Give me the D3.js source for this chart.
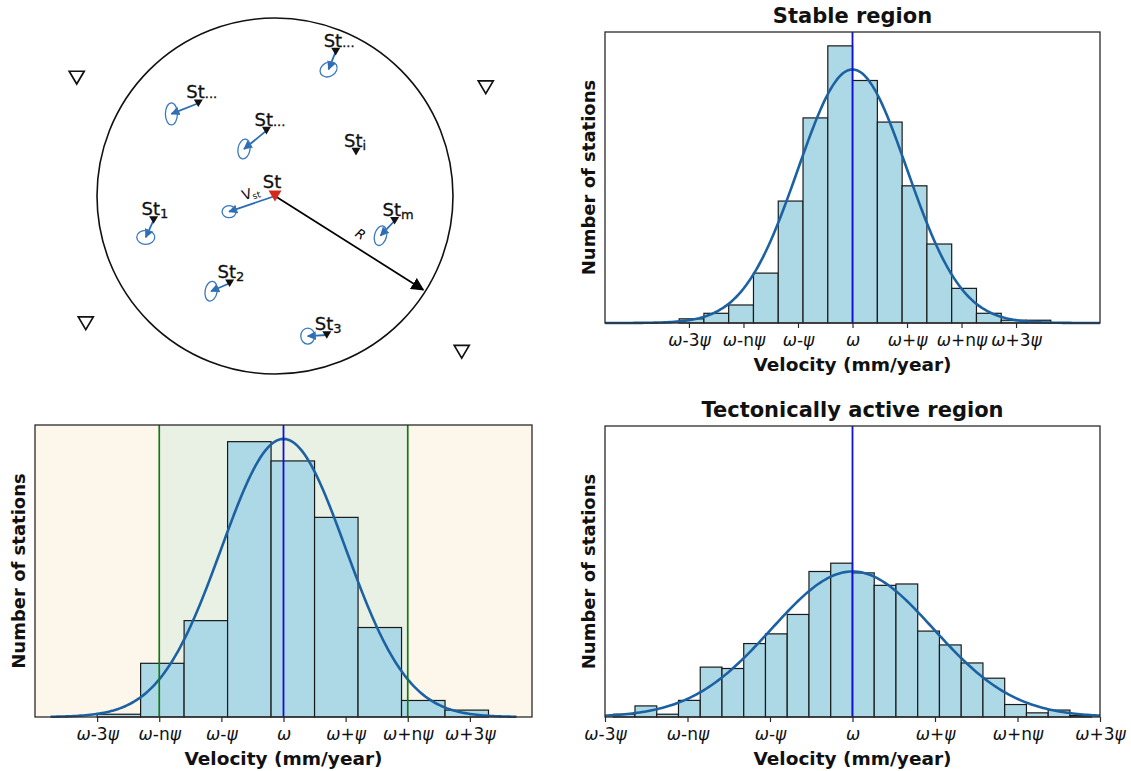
<!DOCTYPE html>
<html>
<head>
<meta charset="utf-8">
<script src="https://cdn.jsdelivr.net/npm/d3@7"></script>
<style>
  body { margin: 0; background: #fff; }
  text { font-family: 'DejaVu Sans', sans-serif; }
</style>
</head>
<body>
<div id="chart"></div>
<script>
// tick labels shared by the three histograms (units of psi around omega)
var tickValues = [-3, -2, -1, 0, 1, 2, 3];
var tickLabels = ['ω-3ψ', 'ω-nψ', 'ω-ψ', 'ω', 'ω+ψ', 'ω+nψ', 'ω+3ψ'];

// stable region
var stableStart = -3.18, stableWidth = 0.4545;
var stableCounts = [3, 7, 13, 36, 88, 148, 200, 175, 145, 99, 57, 25, 7, 2, 2];
var stableFit = { mean: 0, sd: 1.0, peak: 183 };

// tectonically active region
var activeStart = -2.9, activeWidth = 0.2636;
var activeCounts = [2, 8, 2, 12, 36, 35, 53, 60, 74, 105, 111, 104, 95, 96, 62, 52, 39, 28, 9, 3, 5, 1];
var activeFit = { mean: 0, sd: 0.98, peak: 105 };

// classification example (bottom left)
var classStart = -3.0, classWidth = 0.7;
var classCounts = [2, 39, 70, 200, 186, 145, 65, 12, 5];
var classFit = { mean: 0, sd: 1.0, peak: 202 };
var classLimits = [-2, 2];

// schematic: stations in units of the search radius R (u right, v down)
var stations = [
    { sub: '...', u: 0.341, v: -0.811, vu: -0.04, vv: 0.10, e: [9, 7, -30] },
    { sub: '...', u: -0.431, v: -0.521, vu: -0.151, vv: 0.060, e: [6, 11, 0] },
    { sub: '...', u: -0.048, v: -0.367, vu: -0.126, vv: 0.103, e: [6, 10, 10] },
    { sub: 'i', u: 0.455, v: -0.249 },
    { sub: '1', u: -0.682, v: 0.135, vu: -0.044, vv: 0.097, e: [9, 7, 0] },
    { sub: 'm', u: 0.672, v: 0.139, vu: -0.079, vv: 0.084, e: [6, 10, 15] },
    { sub: '2', u: -0.255, v: 0.490, vu: -0.104, vv: 0.045, e: [6, 10, 10] },
    { sub: '3', u: 0.291, v: 0.781, vu: -0.107, vv: 0.006, e: [7, 8, 0] }
];
var centre = { u: 0, v: 0, vu: -0.258, vv: 0.088, e: [7, 6, 0] };
var outside = [
    { u: -1.114, v: -0.665 }, { u: 1.184, v: -0.611 },
    { u: -1.063, v: 0.715 }, { u: 1.049, v: 0.875 }
];
var radiusAngle = 32.3;

var svg = d3.select('#chart').append('svg')
    .attr('width', 1131)
    .attr('height', 771);

var defs = svg.append('defs');
function marker(id, color, size) {
    defs.append('marker')
        .attr('id', id)
        .attr('viewBox', '0 0 10 10')
        .attr('refX', 9).attr('refY', 5)
        .attr('markerWidth', size).attr('markerHeight', size)
        .attr('markerUnits', 'userSpaceOnUse')
        .attr('orient', 'auto')
        .append('path')
        .attr('d', 'M0,0 L10,5 L0,10 Z')
        .attr('fill', color);
}
marker('headBlue', '#2c6db3', 9);
marker('headBlack', '#000', 13);

function pdf(fit, v) {
    return fit.peak * Math.exp(-0.5 * Math.pow((v - fit.mean) / fit.sd, 2));
}

function tickText(sel, label) {
    sel.text(null);
    label.split('').forEach(function(c) {
        var greek = /[ωψ]/.test(c);
        sel.append('tspan')
            .attr('font-style', greek ? 'italic' : 'normal')
            .text(c);
    });
}

function histogram(o) {
    var g = svg.append('g');
    var x = d3.scaleLinear().domain(o.xDomain).range([o.left, o.right]);
    var y = d3.scaleLinear().domain([0, o.yMax]).range([o.bottom, o.top]);

    if (o.limits) {
        var bands = [
            { a: o.xDomain[0], b: o.limits[0], c: '#fdf6ea' },
            { a: o.limits[0], b: o.limits[1], c: '#e9f1e5' },
            { a: o.limits[1], b: o.xDomain[1], c: '#fdf6ea' }
        ];
        g.selectAll('rect.band').data(bands).enter().append('rect')
            .attr('x', function(d) { return x(d.a); })
            .attr('width', function(d) { return x(d.b) - x(d.a); })
            .attr('y', o.top)
            .attr('height', o.bottom - o.top)
            .attr('fill', function(d) { return d.c; });
    }

    var bins = o.counts.map(function(n, i) {
        return { x0: o.start + i * o.width, x1: o.start + (i + 1) * o.width, n: n };
    });
    g.selectAll('rect.bar').data(bins).enter().append('rect')
        .attr('x', function(d) { return x(d.x0); })
        .attr('width', function(d) { return x(d.x1) - x(d.x0); })
        .attr('y', function(d) { return y(d.n); })
        .attr('height', function(d) { return y(0) - y(d.n); })
        .attr('fill', '#add8e6')
        .attr('stroke', '#1a1a1a')
        .attr('stroke-width', 1.2);

    var span = o.curveSpan || o.xDomain;
    var pts = d3.range(201).map(function(i) {
        return span[0] + (span[1] - span[0]) * i / 200;
    });
    g.append('path')
        .datum(pts)
        .attr('d', d3.line()
            .x(function(d) { return x(d); })
            .y(function(d) { return y(pdf(o.fit, d)); }))
        .attr('fill', 'none')
        .attr('stroke', '#1c62a2')
        .attr('stroke-width', 2.6);

    if (o.limits) {
        g.selectAll('line.limit').data(o.limits).enter().append('line')
            .attr('x1', function(d) { return x(d); })
            .attr('x2', function(d) { return x(d); })
            .attr('y1', o.top).attr('y2', o.bottom)
            .attr('stroke', '#137a13')
            .attr('stroke-width', 1.7);
    }
    g.append('line')
        .attr('x1', x(0)).attr('x2', x(0))
        .attr('y1', o.top).attr('y2', o.bottom)
        .attr('stroke', '#1010d8')
        .attr('stroke-width', 1.8);

    g.append('rect')
        .attr('x', o.left).attr('y', o.top)
        .attr('width', o.right - o.left).attr('height', o.bottom - o.top)
        .attr('fill', 'none')
        .attr('stroke', '#2a2a2a')
        .attr('stroke-width', 1.3);

    var ax = g.append('g')
        .attr('transform', 'translate(0,' + o.bottom + ')')
        .call(d3.axisBottom(x)
            .tickValues(tickValues)
            .tickFormat(function(d, i) { return tickLabels[i]; })
            .tickSize(5)
            .tickPadding(6));
    ax.select('.domain').remove();
    ax.selectAll('.tick line').attr('stroke', '#2a2a2a').attr('stroke-width', 1.2);
    ax.selectAll('.tick text')
        .attr('font-family', 'DejaVu Sans')
        .attr('font-size', 17)
        .attr('fill', '#111')
        .each(function(d, i) { tickText(d3.select(this), tickLabels[i]); });

    var cx = (o.left + o.right) / 2;
    g.append('text')
        .attr('x', cx).attr('y', o.bottom + 48)
        .attr('text-anchor', 'middle')
        .attr('font-size', 18.5).attr('font-weight', 'bold')
        .attr('fill', '#111')
        .text('Velocity (mm/year)');
    g.append('text')
        .attr('transform', 'translate(' + (o.left - 10) + ',' + ((o.top + o.bottom) / 2) + ') rotate(-90)')
        .attr('text-anchor', 'middle')
        .attr('font-size', 18).attr('font-weight', 'bold')
        .attr('fill', '#111')
        .text('Number of stations');
    if (o.title) {
        g.append('text')
            .attr('x', cx).attr('y', o.top - 9)
            .attr('text-anchor', 'middle')
            .attr('font-size', 21).attr('font-weight', 'bold')
            .attr('fill', '#111')
            .text(o.title);
    }
}

var stableMax = 1.05 * Math.max(d3.max(stableCounts), stableFit.peak);

histogram({
    title: 'Stable region',
    left: 605, right: 1100, top: 32, bottom: 323,
    xDomain: [-4.54, 4.54], yMax: stableMax,
    start: stableStart, width: stableWidth, counts: stableCounts, fit: stableFit
});
histogram({
    title: 'Tectonically active region',
    left: 605, right: 1100, top: 426, bottom: 717,
    xDomain: [-3, 3], yMax: stableMax,
    start: activeStart, width: activeWidth, counts: activeCounts, fit: activeFit
});
histogram({
    left: 35, right: 532, top: 425, bottom: 717,
    xDomain: [-4, 4], yMax: 1.05 * Math.max(d3.max(classCounts), classFit.peak),
    start: classStart, width: classWidth, counts: classCounts, fit: classFit,
    limits: classLimits, curveSpan: [-3.75, 3.75]
});

// ---- schematic of the search circle ----
var R = 178;
var du = d3.scaleLinear().domain([-1, 1]).range([275 - R, 275 + R]);
var dv = d3.scaleLinear().domain([-1, 1]).range([196 - R, 196 + R]);
var sk = svg.append('g');

sk.append('circle')
    .attr('cx', du(0)).attr('cy', dv(0)).attr('r', R)
    .attr('fill', 'none').attr('stroke', '#111').attr('stroke-width', 1.6);

function tri(size) {
    var w = size, h = size * 0.85;
    return 'M' + (-w / 2) + ',' + (-h / 2) + ' L' + (w / 2) + ',' + (-h / 2) + ' L0,' + (h / 2) + ' Z';
}

sk.selectAll('path.out').data(outside).enter().append('path')
    .attr('transform', function(d) { return 'translate(' + du(d.u) + ',' + dv(d.v) + ')'; })
    .attr('d', tri(15))
    .attr('fill', 'none').attr('stroke', '#111').attr('stroke-width', 1.7);

// radius arrow
var ca = Math.cos(radiusAngle * Math.PI / 180), sa = Math.sin(radiusAngle * Math.PI / 180);
sk.append('line')
    .attr('x1', du(0)).attr('y1', dv(0))
    .attr('x2', du(0.985 * ca)).attr('y2', dv(0.985 * sa))
    .attr('stroke', '#000').attr('stroke-width', 1.7)
    .attr('marker-end', 'url(#headBlack)');
sk.append('text')
    .attr('transform', 'translate(' + du(0.52 * ca + 0.05 * sa) + ',' + dv(0.52 * sa - 0.05 * ca) + ') rotate(' + radiusAngle + ')')
    .attr('font-family', 'Liberation Sans, Arial, sans-serif')
    .attr('font-size', 13).attr('font-style', 'italic')
    .attr('text-anchor', 'middle')
    .text('R');

var moving = stations.filter(function(d) { return d.vu !== undefined; }).concat([centre]);
sk.selectAll('line.vel').data(moving).enter().append('line')
    .attr('x1', function(d) { return du(d.u); })
    .attr('y1', function(d) { return dv(d.v); })
    .attr('x2', function(d) { return du(d.u + d.vu); })
    .attr('y2', function(d) { return dv(d.v + d.vv); })
    .attr('stroke', '#2c6db3').attr('stroke-width', 1.8)
    .attr('marker-end', 'url(#headBlue)');
sk.selectAll('ellipse.err').data(moving).enter().append('ellipse')
    .attr('transform', function(d) {
        return 'translate(' + du(d.u + d.vu) + ',' + dv(d.v + d.vv) + ') rotate(' + d.e[2] + ')';
    })
    .attr('rx', function(d) { return d.e[0]; })
    .attr('ry', function(d) { return d.e[1]; })
    .attr('fill', 'none').attr('stroke', '#3a78bd').attr('stroke-width', 1.3);

sk.selectAll('path.st').data(stations).enter().append('path')
    .attr('transform', function(d) { return 'translate(' + du(d.u) + ',' + dv(d.v) + ')'; })
    .attr('d', tri(9))
    .attr('fill', '#111');

var labels = sk.selectAll('text.st').data(stations).enter().append('text')
    .attr('x', function(d) { return du(d.u) - 12; })
    .attr('y', function(d) { return dv(d.v) - 5; })
    .attr('font-family', 'Liberation Sans, Arial, sans-serif')
    .attr('font-size', 18)
    .attr('fill', '#111')
    .attr('stroke', '#111').attr('stroke-width', 0.3);
labels.append('tspan').text('St');
labels.append('tspan')
    .attr('font-size', 13)
    .attr('dy', function(d) { return d.sub === '...' ? 0 : 3; })
    .text(function(d) { return d.sub; });

// target station
sk.append('path')
    .attr('transform', 'translate(' + du(0) + ',' + dv(0) + ')')
    .attr('d', tri(13))
    .attr('fill', '#d42a1e');
sk.append('text')
    .attr('x', du(0) - 3).attr('y', dv(0) - 8)
    .attr('text-anchor', 'middle')
    .attr('font-family', 'Liberation Sans, Arial, sans-serif')
    .attr('font-size', 18).attr('fill', '#111')
    .attr('stroke', '#111').attr('stroke-width', 0.3)
    .text('St');
var vl = sk.append('text')
    .attr('transform', 'translate(' + (du(centre.vu * 0.55) - 6) + ',' + (dv(centre.vv * 0.55) - 4) + ') rotate(-18)')
    .attr('font-family', 'Liberation Sans, Arial, sans-serif')
    .attr('font-size', 14).attr('fill', '#111');
vl.append('tspan').text('V');
vl.append('tspan').attr('font-size', 9).attr('dy', 2).text('st');
</script>
</body>
</html>
